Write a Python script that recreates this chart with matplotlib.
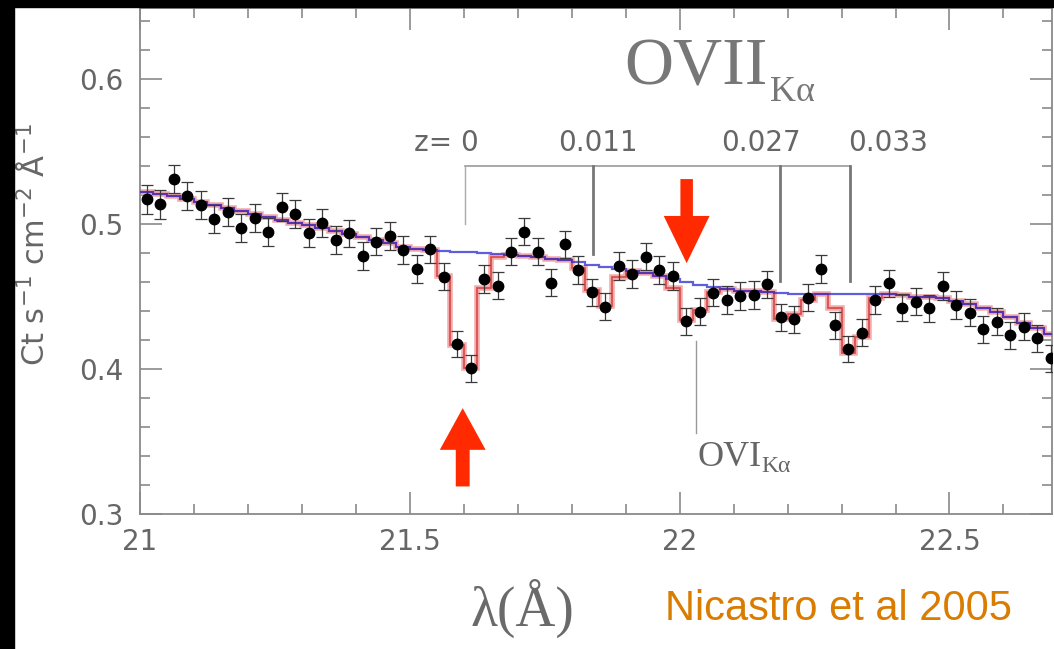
import matplotlib
matplotlib.use("Agg")
import matplotlib.pyplot as plt
from matplotlib.patches import Rectangle, FancyArrowPatch
from matplotlib.ticker import MultipleLocator, FuncFormatter
import numpy as np

# bin centres (Angstrom)
wave = [21.0125, 21.0375, 21.0625, 21.0875, 21.1125, 21.1375, 21.1625, 21.1875,
        21.2125, 21.2375, 21.2625, 21.2875, 21.3125, 21.3375, 21.3625, 21.3875,
        21.4125, 21.4375, 21.4625, 21.4875, 21.5125, 21.5375, 21.5625, 21.5875,
        21.6125, 21.6375, 21.6625, 21.6875, 21.7125, 21.7375, 21.7625, 21.7875,
        21.8125, 21.8375, 21.8625, 21.8875, 21.9125, 21.9375, 21.9625, 21.9875,
        22.0125, 22.0375, 22.0625, 22.0875, 22.1125, 22.1375, 22.1625, 22.1875,
        22.2125, 22.2375, 22.2625, 22.2875, 22.3125, 22.3375, 22.3625, 22.3875,
        22.4125, 22.4375, 22.4625, 22.4875, 22.5125, 22.5375, 22.5625, 22.5875,
        22.6125, 22.6375, 22.6625, 22.6875]

# measured flux
flux = [0.517, 0.5136, 0.531, 0.5195, 0.513, 0.5034, 0.508, 0.497,
        0.504, 0.4947, 0.512, 0.5067, 0.4936, 0.5005, 0.489, 0.4936,
        0.478, 0.4878, 0.4917, 0.482, 0.469, 0.4826, 0.4637, 0.4172,
        0.4005, 0.462, 0.4575, 0.481, 0.4947, 0.481, 0.4595, 0.486,
        0.4683, 0.4529, 0.443, 0.471, 0.4655, 0.4775, 0.4683, 0.4641,
        0.4331, 0.4395, 0.4526, 0.4476, 0.4503, 0.451, 0.4584, 0.4357,
        0.4343, 0.4492, 0.469, 0.4303, 0.4138, 0.425, 0.4476, 0.4591,
        0.4423, 0.4464, 0.4419, 0.4572, 0.4441, 0.4388, 0.4274, 0.4326,
        0.4234, 0.4292, 0.4212, 0.4074]

err = [0.0100, 0.0100, 0.0098, 0.0098, 0.0098, 0.0097, 0.0097, 0.0097,
       0.0097, 0.0096, 0.0096, 0.0096, 0.0096, 0.0096, 0.0095, 0.0095,
       0.0095, 0.0095, 0.0095, 0.0095, 0.0094, 0.0094, 0.0094, 0.0092,
       0.0092, 0.0094, 0.0094, 0.0095, 0.0095, 0.0095, 0.0094, 0.0095,
       0.0094, 0.0094, 0.0093, 0.0094, 0.0094, 0.0094, 0.0094, 0.0094,
       0.0093, 0.0093, 0.0094, 0.0094, 0.0094, 0.0094, 0.0094, 0.0093,
       0.0093, 0.0094, 0.0095, 0.0093, 0.0092, 0.0093, 0.0094, 0.0094,
       0.0094, 0.0094, 0.0094, 0.0094, 0.0094, 0.0093, 0.0093, 0.0093,
       0.0093, 0.0093, 0.0093, 0.0092]

# continuum model (blue)
cont = [0.522, 0.521, 0.519, 0.517, 0.515, 0.513, 0.511, 0.509,
        0.507, 0.505, 0.503, 0.501, 0.499, 0.497, 0.495, 0.493,
        0.491, 0.489, 0.487, 0.4845, 0.483, 0.482, 0.4815, 0.481,
        0.4805, 0.480, 0.479, 0.4785, 0.478, 0.477, 0.476, 0.475,
        0.4735, 0.472, 0.4705, 0.469, 0.4675, 0.466, 0.464, 0.462,
        0.460, 0.458, 0.4565, 0.455, 0.454, 0.4535, 0.453, 0.4525,
        0.452, 0.452, 0.452, 0.452, 0.452, 0.452, 0.452, 0.4515,
        0.451, 0.450, 0.4495, 0.449, 0.447, 0.445, 0.442, 0.439,
        0.436, 0.432, 0.428, 0.424]

# continuum + absorption lines (red)
model = [0.522, 0.521, 0.519, 0.517, 0.515, 0.513, 0.511, 0.509,
         0.507, 0.505, 0.503, 0.501, 0.499, 0.497, 0.495, 0.493,
         0.491, 0.489, 0.487, 0.4845, 0.483, 0.482, 0.464, 0.4166,
         0.4007, 0.4556, 0.4775, 0.4785, 0.478, 0.477, 0.476, 0.475,
         0.4697, 0.4545, 0.4434, 0.4637, 0.4675, 0.466, 0.464, 0.4556,
         0.4338, 0.4407, 0.453, 0.455, 0.454, 0.4535, 0.453, 0.4345,
         0.438, 0.4475, 0.452, 0.442, 0.411, 0.4223, 0.449, 0.4515,
         0.451, 0.450, 0.4495, 0.449, 0.447, 0.445, 0.442, 0.439,
         0.436, 0.432, 0.428, 0.424]

bin_edges = [w - 0.0125 for w in wave] + [wave[-1] + 0.0125]

# redshift markers of OVII Ka
z_labels = ["z= 0", "0.011", "0.027", "0.033"]
z_line_x = [21.602, 21.840, 22.186, 22.316]
z_line_bottom = [0.500, 0.479, 0.461, 0.461]
z_label_x = [21.567, 21.848, 22.150, 22.387]
bracket_y = 0.540
z_label_y = 0.556

W, H = 1054, 649
fig = plt.figure(figsize=(W / 100, H / 100), dpi=100)
fig.patch.set_facecolor("white")
ax = fig.add_axes([140 / W, (H - 514) / H, (1052 - 140) / W, (514 - 8) / H])
ax.set_xlim(21.0, 22.69)
ax.set_ylim(0.3, 0.649)

gray = "#8a8a8a"
txt = "#666666"

# models
ax.stairs(model, bin_edges, color="#f4abab", lw=4.0, baseline=None, zorder=2)
ax.stairs(model, bin_edges, color="#d84848", lw=1.2, baseline=None, zorder=3)
ax.stairs(cont, bin_edges, color="#2a2ad0", lw=1.6, alpha=0.75, baseline=None, zorder=4)

# data
ax.errorbar(wave, flux, yerr=err, fmt="o", color="black", ms=7.5,
            ecolor="#3a3a3a", elinewidth=0.9, capsize=4.5, capthick=0.9, zorder=5)

# redshift bracket
ax.plot([z_line_x[0], z_line_x[-1]], [bracket_y, bracket_y], color="#9a9a9a", lw=1.2)
for i, (x, yb) in enumerate(zip(z_line_x, z_line_bottom)):
    ax.plot([x, x], [yb, bracket_y], color="#aaaaaa" if i == 0 else "#777777",
            lw=1.0 if i == 0 else 2.0)
for lab, x in zip(z_labels, z_label_x):
    ax.text(x, z_label_y, lab, ha="center", va="center", fontsize=20, color=txt)

# OVI marker
ax.plot([22.031, 22.031], [0.356, 0.419], color="#999999", lw=1.0)
ax.text(22.034, 0.333, "OVI", fontsize=26, color=txt, family="Liberation Serif",
        ha="left", va="baseline")
ax.text(22.152, 0.329, "K\u03b1", fontsize=17, color=txt, family="Liberation Serif",
        ha="left", va="baseline")

# title OVII Ka
ax.text(21.898, 0.596, "OVII", fontsize=49, color="#777777", family="Liberation Serif",
        ha="left", va="baseline")
ax.text(22.168, 0.585, "K\u03b1", fontsize=26, color="#777777", family="Liberation Serif",
        ha="left", va="baseline")

# red arrows
red = "#ff2a00"
up = FancyArrowPatch((21.598, 0.319), (21.598, 0.373),
                     arrowstyle="simple,head_length=30,head_width=33,tail_width=10",
                     mutation_scale=1, color=red, lw=0, shrinkA=0, shrinkB=0, zorder=6)
down = FancyArrowPatch((22.013, 0.531), (22.013, 0.473),
                       arrowstyle="simple,head_length=34,head_width=33,tail_width=9",
                       mutation_scale=1, color=red, lw=0, shrinkA=0, shrinkB=0, zorder=6)
ax.add_patch(up)
ax.add_patch(down)

# axes styling
for s in ax.spines.values():
    s.set_color(gray)
    s.set_linewidth(1.3)
ax.xaxis.set_major_locator(MultipleLocator(0.5))
ax.xaxis.set_minor_locator(MultipleLocator(0.1))
ax.yaxis.set_major_locator(MultipleLocator(0.1))
ax.yaxis.set_minor_locator(MultipleLocator(0.02))
ax.xaxis.set_major_formatter(FuncFormatter(lambda v, p: "{:g}".format(round(v, 2))))
ax.yaxis.set_major_formatter(FuncFormatter(lambda v, p: "{:.1f}".format(v)))
ax.tick_params(which="both", direction="in", top=True, right=True, color=gray,
               width=1.2, labelcolor=txt, labelsize=20)
ax.tick_params(which="major", length=16)
ax.tick_params(which="minor", length=7)
ax.tick_params(axis="y", pad=12)
ax.tick_params(axis="x", pad=10)

# axis labels
fig.text(34 / W, 1 - 245 / H, r"Ct s$^{-1}$ cm$^{-2}$ $\mathrm{\AA}^{-1}$", rotation=90,
         ha="center", va="center", fontsize=22, color=txt)
fig.text(522 / W, 1 - 608 / H, "\u03bb(\u00c5)", ha="center", va="center",
         fontsize=40, color="#6a6a6a", family="Liberation Serif")
fig.text(665 / W, 1 - 620 / H, "Nicastro et al 2005", ha="left", va="baseline",
         fontsize=30, color="#d97c00", family="Liberation Sans")

# black frame strips
fig.patches.append(Rectangle((0, 0), 14 / W, 1, transform=fig.transFigure,
                             color="black", zorder=20))
fig.patches.append(Rectangle((0, 1 - 7 / H), 1, 7 / H, transform=fig.transFigure,
                             color="black", zorder=20))

fig.savefig("out.png", dpi=100)
